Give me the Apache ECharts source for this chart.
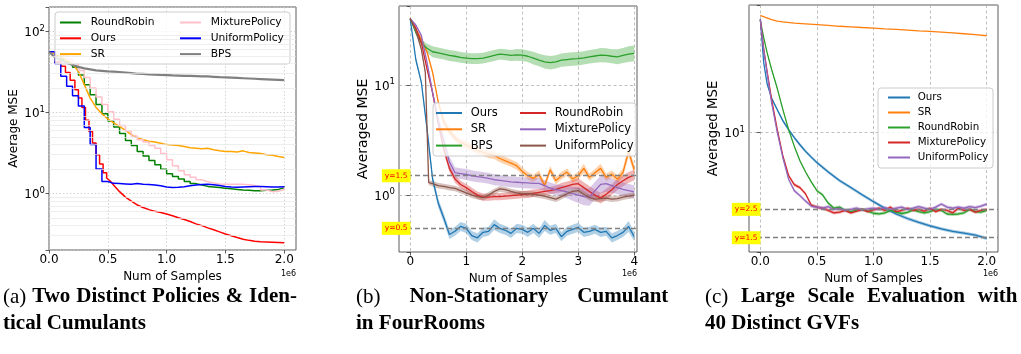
<!DOCTYPE html>
<html>
<head>
<meta charset="utf-8">
<script src="https://cdn.jsdelivr.net/npm/echarts@6/dist/echarts.min.js"></script>
<style>
  html, body { margin: 0; padding: 0; background: #fff; }
  #main { width: 1021px; height: 354px; }
</style>
</head>
<body>
<div id="main"></div>
<script>
// ---------- panel (a): two distinct policies, identical cumulants ----------
var xA = [0, 0.05, 0.1, 0.15, 0.2, 0.25, 0.3, 0.35, 0.4, 0.45, 0.5, 0.55, 0.6, 0.65, 0.7, 0.75, 0.8, 0.85, 0.9, 0.95,
          1.0, 1.05, 1.1, 1.15, 1.2, 1.25, 1.3, 1.35, 1.4, 1.45, 1.5, 1.55, 1.6, 1.65, 1.7, 1.75, 1.8, 1.85, 1.9, 1.95, 2.0];
var roundRobinA = [56, 50, 45, 41, 36, 29, 22, 16.5, 12.5, 9.6, 7.8, 6.6, 5.5, 4.5, 3.9, 3.3, 2.9, 2.55, 2.25, 1.98,
                   1.75, 1.62, 1.5, 1.4, 1.32, 1.27, 1.22, 1.2, 1.18, 1.16, 1.14, 1.12, 1.1, 1.09, 1.08, 1.08, 1.09, 1.1, 1.12, 1.17, 1.22];
var srA = [56, 53, 48, 44, 40, 32, 22, 15, 11.5, 9.6, 8.3, 7.4, 6.7, 6.0, 5.3, 4.9, 4.6, 4.4, 4.3, 4.15,
           4.0, 3.95, 3.9, 3.8, 3.65, 3.6, 3.55, 3.6, 3.45, 3.35, 3.3, 3.3, 3.25, 3.35, 3.2, 3.15, 3.1, 3.0, 2.95, 2.85, 2.78];
var mixtureA = [56, 54, 50, 45, 40, 33, 27, 20, 15.5, 12.5, 10.2, 8.2, 6.9, 5.9, 5.1, 4.6, 4.3, 3.9, 3.6, 3.1,
                2.6, 2.2, 1.9, 1.7, 1.58, 1.47, 1.39, 1.34, 1.31, 1.3, 1.3, 1.3, 1.3, 1.28, 1.25, 1.2, 1.1, 1.05, 1.06, 1.12, 1.2];
var uniformA = [56, 40, 28, 21, 16, 12, 6.5, 4, 2.0, 1.4, 1.33, 1.32, 1.31, 1.3, 1.32, 1.3, 1.29, 1.27, 1.24, 1.2,
                1.18, 1.19, 1.21, 1.24, 1.27, 1.29, 1.3, 1.28, 1.25, 1.22, 1.2, 1.19, 1.2, 1.21, 1.22, 1.22, 1.21, 1.2, 1.2, 1.21, 1.22];
var bpsA = [56, 48, 44, 41, 38.5, 36.5, 35, 34, 33, 32.5, 32, 31.8, 31.5, 31, 30.5, 30, 29.8, 29.5, 29.3, 29,
            28.8, 28.6, 28.5, 28.3, 28.2, 28, 27.8, 27.8, 27.5, 27.2, 27, 26.8, 26.6, 26.4, 26.2, 26, 25.8, 25.6, 25.4, 25.2, 25];
// "Ours" is stepped early and smooth later, so it keeps its own points
var oursA = [[0, 56], [0.05, 56], [0.05, 42], [0.1, 42], [0.1, 37], [0.14, 37], [0.14, 31], [0.18, 31], [0.18, 25],
             [0.22, 25], [0.22, 19], [0.25, 19], [0.25, 15], [0.28, 15], [0.28, 11.5], [0.31, 11.5], [0.31, 8], [0.34, 8],
             [0.34, 5.8], [0.37, 5.8], [0.37, 4.2], [0.4, 4.2], [0.4, 3.0], [0.43, 3.0], [0.43, 2.3], [0.46, 2.3],
             [0.46, 1.8], [0.49, 1.8], [0.49, 1.55], [0.52, 1.42], [0.56, 1.22], [0.6, 1.05], [0.65, 0.9], [0.7, 0.8],
             [0.75, 0.72], [0.8, 0.67], [0.85, 0.63], [0.9, 0.6], [0.95, 0.58], [1.0, 0.555], [1.05, 0.53], [1.1, 0.5],
             [1.15, 0.475], [1.2, 0.45], [1.25, 0.42], [1.3, 0.4], [1.35, 0.375], [1.4, 0.355], [1.45, 0.335], [1.5, 0.315],
             [1.55, 0.3], [1.6, 0.285], [1.65, 0.272], [1.7, 0.263], [1.75, 0.257], [1.8, 0.253], [1.85, 0.251],
             [1.9, 0.249], [1.95, 0.247], [2.0, 0.245]];
var minorGridA = [0.3, 0.4, 0.5, 0.6, 0.7, 0.8, 0.9, 2, 3, 4, 5, 6, 7, 8, 9, 20, 30, 40, 50, 60, 70, 80, 90];

// ---------- panel (b): non-stationary cumulant, [x, mean, band factor] ----------
var oursB = [[0, 40, 1], [0.1, 17, 1.05], [0.2, 10.5, 1.05], [0.3, 4.0, 1.08], [0.4, 1.4, 1.1], [0.5, 0.85, 1.1],
  [0.6, 0.62, 1.1], [0.7, 0.44, 1.1], [0.8, 0.47, 1.1], [0.9, 0.52, 1.1], [1.0, 0.5, 1.1], [1.1, 0.43, 1.1],
  [1.2, 0.41, 1.1], [1.3, 0.46, 1.1], [1.4, 0.47, 1.1], [1.5, 0.54, 1.12], [1.6, 0.5, 1.1], [1.7, 0.48, 1.1],
  [1.8, 0.45, 1.1], [1.9, 0.5, 1.1], [2.0, 0.49, 1.1], [2.1, 0.46, 1.1], [2.2, 0.5, 1.1], [2.3, 0.45, 1.1],
  [2.4, 0.53, 1.12], [2.5, 0.48, 1.1], [2.6, 0.5, 1.1], [2.7, 0.42, 1.1], [2.8, 0.47, 1.1], [2.9, 0.49, 1.1],
  [3.0, 0.51, 1.1], [3.1, 0.46, 1.1], [3.2, 0.47, 1.1], [3.3, 0.49, 1.1], [3.4, 0.46, 1.1], [3.5, 0.47, 1.1],
  [3.6, 0.41, 1.1], [3.7, 0.43, 1.1], [3.8, 0.46, 1.1], [3.9, 0.52, 1.12], [4.0, 0.42, 1.1]];
var srB = [[0, 40, 1], [0.1, 32, 1.02], [0.2, 26, 1.03], [0.3, 20, 1.04], [0.4, 13, 1.05], [0.5, 7, 1.06],
  [0.6, 4.6, 1.08], [0.7, 3.8, 1.08], [0.8, 3.3, 1.08], [0.9, 3.0, 1.08], [1.0, 2.85, 1.08], [1.1, 2.7, 1.08],
  [1.2, 2.55, 1.08], [1.3, 2.45, 1.08], [1.4, 2.35, 1.08], [1.5, 2.3, 1.08], [1.6, 2.15, 1.08], [1.7, 2.05, 1.08],
  [1.8, 1.95, 1.08], [1.9, 1.85, 1.08], [2.0, 1.65, 1.08], [2.1, 1.5, 1.08], [2.2, 1.42, 1.08], [2.3, 1.55, 1.08],
  [2.4, 1.22, 1.08], [2.5, 1.7, 1.08], [2.6, 1.35, 1.08], [2.7, 1.5, 1.08], [2.8, 1.62, 1.08], [2.9, 1.4, 1.08],
  [3.0, 1.5, 1.08], [3.1, 1.75, 1.1], [3.2, 1.45, 1.08], [3.3, 1.6, 1.08], [3.4, 1.75, 1.1], [3.5, 1.45, 1.08],
  [3.6, 1.55, 1.08], [3.7, 1.4, 1.08], [3.8, 1.6, 1.1], [3.9, 2.5, 1.12], [4.0, 1.7, 1.1]];
var bpsB = [[0, 40, 1], [0.1, 30, 1.05], [0.2, 24, 1.08], [0.3, 21.5, 1.1], [0.4, 20, 1.12], [0.5, 19.5, 1.12],
  [0.6, 19, 1.12], [0.7, 18.5, 1.12], [0.8, 18.2, 1.12], [0.9, 17.8, 1.12], [1.0, 17.5, 1.12], [1.1, 17.3, 1.12],
  [1.2, 17.3, 1.12], [1.3, 17.5, 1.12], [1.4, 18, 1.12], [1.5, 18.5, 1.12], [1.6, 19, 1.12], [1.7, 18.8, 1.12],
  [1.8, 18.5, 1.12], [1.9, 18.7, 1.13], [2.0, 18.6, 1.13], [2.1, 18.2, 1.13], [2.2, 17.5, 1.14], [2.3, 16.8, 1.14],
  [2.4, 16.2, 1.15], [2.5, 15.9, 1.15], [2.6, 16.2, 1.15], [2.7, 16.8, 1.15], [2.8, 17, 1.15], [2.9, 17.2, 1.15],
  [3.0, 17.3, 1.15], [3.1, 17.6, 1.15], [3.2, 18, 1.15], [3.3, 18.3, 1.15], [3.4, 18.6, 1.16], [3.5, 18.5, 1.16],
  [3.6, 18.2, 1.16], [3.7, 18, 1.17], [3.8, 18.5, 1.17], [3.9, 19, 1.18], [4.0, 19.3, 1.18]];
var roundRobinB = [[0, 40, 1], [0.1, 33, 1.02], [0.2, 24, 1.03], [0.3, 14, 1.04], [0.4, 8.5, 1.05], [0.5, 4.5, 1.06],
  [0.6, 2.6, 1.08], [0.7, 1.75, 1.08], [0.8, 1.4, 1.08], [0.9, 1.25, 1.08], [1.0, 1.17, 1.08], [1.1, 1.08, 1.08],
  [1.2, 1.0, 1.08], [1.3, 0.96, 1.08], [1.4, 0.96, 1.08], [1.5, 0.97, 1.08], [1.6, 0.97, 1.08], [1.7, 0.98, 1.08],
  [1.8, 0.99, 1.08], [1.9, 1.0, 1.08], [2.0, 1.01, 1.08], [2.1, 1.02, 1.08], [2.2, 1.04, 1.08], [2.3, 1.06, 1.08],
  [2.4, 1.08, 1.08], [2.5, 1.1, 1.08], [2.6, 1.13, 1.08], [2.7, 1.17, 1.1], [2.8, 1.21, 1.1], [2.9, 1.25, 1.1],
  [3.0, 1.27, 1.12], [3.1, 1.17, 1.12], [3.2, 1.08, 1.12], [3.3, 1.0, 1.12], [3.4, 0.94, 1.12], [3.5, 1.02, 1.12],
  [3.6, 1.12, 1.12], [3.7, 1.25, 1.12], [3.8, 1.35, 1.12], [3.9, 1.45, 1.12], [4.0, 1.52, 1.12]];
var mixtureB = [[0, 40, 1], [0.1, 35, 1.02], [0.2, 28, 1.03], [0.3, 16, 1.05], [0.4, 8.5, 1.08], [0.5, 4.8, 1.1],
  [0.6, 3.1, 1.12], [0.7, 2.0, 1.12], [0.8, 1.6, 1.12], [0.9, 1.57, 1.12], [1.0, 1.54, 1.12], [1.1, 1.5, 1.12],
  [1.2, 1.47, 1.12], [1.3, 1.45, 1.12], [1.4, 1.42, 1.12], [1.5, 1.38, 1.12], [1.6, 1.36, 1.12], [1.7, 1.34, 1.12],
  [1.8, 1.32, 1.12], [1.9, 1.31, 1.12], [2.0, 1.3, 1.12], [2.1, 1.29, 1.12], [2.2, 1.28, 1.12], [2.3, 1.28, 1.12],
  [2.4, 1.22, 1.12], [2.5, 1.16, 1.12], [2.6, 1.12, 1.12], [2.7, 1.1, 1.12], [2.8, 1.07, 1.14], [2.9, 1.03, 1.16],
  [3.0, 1.0, 1.18], [3.1, 0.97, 1.2], [3.2, 0.96, 1.2], [3.3, 1.1, 1.2], [3.4, 1.25, 1.2], [3.5, 1.27, 1.18],
  [3.6, 1.22, 1.16], [3.7, 1.17, 1.15], [3.8, 1.13, 1.15], [3.9, 1.1, 1.15], [4.0, 1.07, 1.15]];
var uniformB = [[0, 40, 1], [0.1, 31, 1.02], [0.2, 21, 1.03], [0.27, 13, 1.04], [0.33, 1.3, 1.05], [0.4, 1.27, 1.06],
  [0.5, 1.22, 1.06], [0.6, 1.2, 1.06], [0.7, 1.17, 1.06], [0.8, 1.15, 1.06], [0.9, 1.1, 1.06], [1.0, 1.05, 1.06],
  [1.1, 1.0, 1.06], [1.2, 0.97, 1.06], [1.3, 0.95, 1.06], [1.4, 1.0, 1.06], [1.5, 1.08, 1.06], [1.6, 1.14, 1.06],
  [1.7, 1.12, 1.06], [1.8, 1.08, 1.06], [1.9, 1.05, 1.06], [2.0, 1.03, 1.06], [2.1, 1.03, 1.06], [2.2, 1.02, 1.06],
  [2.3, 1.0, 1.06], [2.4, 0.98, 1.06], [2.5, 0.95, 1.06], [2.6, 0.92, 1.06], [2.7, 0.97, 1.06], [2.8, 1.03, 1.06],
  [2.9, 1.08, 1.06], [3.0, 1.1, 1.06], [3.1, 1.02, 1.06], [3.2, 0.95, 1.06], [3.3, 0.92, 1.06], [3.4, 0.93, 1.06],
  [3.5, 0.94, 1.06], [3.6, 0.92, 1.06], [3.7, 0.93, 1.06], [3.8, 0.96, 1.06], [3.9, 0.98, 1.06], [4.0, 1.0, 1.06]];
var refLinesB = [1.5, 0.5];

// ---------- panel (c): 40 distinct GVFs, [x, mean, band factor] ----------
var oursC = [[0, 77, 1], [0.03, 35, 1.03], [0.06, 24, 1.03], [0.1, 18.5, 1.03], [0.15, 15, 1.03], [0.2, 12.3, 1.03],
  [0.25, 10.5, 1.03], [0.3, 9.1, 1.03], [0.35, 8.0, 1.03], [0.4, 7.1, 1.03], [0.45, 6.4, 1.03], [0.5, 5.8, 1.03],
  [0.6, 4.9, 1.03], [0.7, 4.2, 1.03], [0.8, 3.7, 1.03], [0.9, 3.25, 1.03], [1.0, 2.87, 1.03], [1.1, 2.55, 1.03],
  [1.2, 2.3, 1.03], [1.3, 2.12, 1.03], [1.4, 1.98, 1.03], [1.5, 1.86, 1.03], [1.6, 1.76, 1.03], [1.7, 1.68, 1.03],
  [1.8, 1.63, 1.03], [1.9, 1.57, 1.03], [2.0, 1.48, 1.03]];
var srC = [[0, 82, 1], [0.05, 79, 1], [0.1, 76, 1], [0.15, 74, 1], [0.2, 73, 1], [0.3, 71.5, 1], [0.4, 70.5, 1],
  [0.5, 69.5, 1], [0.6, 68.5, 1], [0.7, 67.5, 1], [0.8, 66.8, 1], [0.9, 66, 1], [1.0, 65.3, 1], [1.1, 64.5, 1],
  [1.2, 63.8, 1], [1.3, 63, 1], [1.4, 62.2, 1], [1.5, 61.5, 1], [1.6, 60.8, 1], [1.7, 60, 1], [1.8, 59, 1],
  [1.9, 58, 1], [2.0, 56.9, 1]];
var roundRobinC = [[0, 75, 1], [0.03, 55, 1.02], [0.06, 42, 1.02], [0.1, 31, 1.02], [0.15, 22, 1.02], [0.2, 15, 1.02],
  [0.25, 10.5, 1.02], [0.3, 7.8, 1.02], [0.35, 6.0, 1.02], [0.4, 4.9, 1.02], [0.45, 4.1, 1.02], [0.5, 3.5, 1.02],
  [0.55, 3.25, 1.03], [0.6, 2.8, 1.03], [0.65, 2.55, 1.03], [0.7, 2.6, 1.03], [0.75, 2.45, 1.03], [0.8, 2.4, 1.03],
  [0.85, 2.45, 1.03], [0.9, 2.5, 1.03], [0.95, 2.42, 1.03], [1.0, 2.33, 1.03], [1.05, 2.3, 1.03], [1.1, 2.35, 1.03],
  [1.15, 2.45, 1.03], [1.2, 2.38, 1.03], [1.25, 2.32, 1.03], [1.3, 2.37, 1.03], [1.35, 2.48, 1.03], [1.4, 2.4, 1.03],
  [1.45, 2.35, 1.03], [1.5, 2.4, 1.03], [1.55, 2.5, 1.03], [1.6, 2.45, 1.03], [1.65, 2.3, 1.03], [1.7, 2.28, 1.03],
  [1.75, 2.3, 1.03], [1.8, 2.35, 1.03], [1.85, 2.5, 1.03], [1.9, 2.4, 1.03], [1.95, 2.38, 1.03], [2.0, 2.45, 1.03]];
var mixtureC = [[0, 76, 1], [0.03, 45, 1.02], [0.06, 30, 1.02], [0.1, 18, 1.02], [0.15, 10.5, 1.02], [0.2, 6.5, 1.03],
  [0.25, 4.6, 1.03], [0.3, 3.9, 1.03], [0.35, 3.7, 1.03], [0.4, 3.3, 1.03], [0.45, 2.7, 1.03], [0.5, 2.6, 1.03],
  [0.55, 2.55, 1.03], [0.6, 2.45, 1.03], [0.65, 2.35, 1.03], [0.7, 2.38, 1.03], [0.75, 2.45, 1.03], [0.8, 2.35, 1.03],
  [0.85, 2.42, 1.03], [0.9, 2.5, 1.03], [0.95, 2.4, 1.03], [1.0, 2.48, 1.03], [1.05, 2.55, 1.03], [1.1, 2.45, 1.03],
  [1.15, 2.6, 1.03], [1.2, 2.4, 1.03], [1.25, 2.45, 1.03], [1.3, 2.55, 1.03], [1.35, 2.45, 1.03], [1.4, 2.5, 1.03],
  [1.45, 2.42, 1.03], [1.5, 2.55, 1.03], [1.55, 2.4, 1.03], [1.6, 2.5, 1.03], [1.65, 2.45, 1.03], [1.7, 2.35, 1.03],
  [1.75, 2.55, 1.03], [1.8, 2.45, 1.03], [1.85, 2.5, 1.03], [1.9, 2.38, 1.03], [1.95, 2.45, 1.03], [2.0, 2.5, 1.03]];
var uniformC = [[0, 76, 1], [0.03, 44, 1.02], [0.06, 29, 1.02], [0.1, 17, 1.02], [0.15, 10, 1.02], [0.2, 6.3, 1.03],
  [0.25, 4.3, 1.03], [0.3, 3.5, 1.03], [0.35, 3.2, 1.03], [0.4, 2.9, 1.03], [0.45, 2.65, 1.03], [0.5, 2.6, 1.03],
  [0.55, 2.55, 1.03], [0.6, 2.62, 1.03], [0.65, 2.5, 1.03], [0.7, 2.55, 1.03], [0.75, 2.45, 1.03], [0.8, 2.5, 1.03],
  [0.85, 2.55, 1.03], [0.9, 2.48, 1.03], [0.95, 2.52, 1.03], [1.0, 2.55, 1.03], [1.05, 2.5, 1.03], [1.1, 2.58, 1.03],
  [1.15, 2.5, 1.03], [1.2, 2.55, 1.03], [1.25, 2.6, 1.03], [1.3, 2.5, 1.03], [1.35, 2.55, 1.03], [1.4, 2.62, 1.03],
  [1.45, 2.55, 1.03], [1.5, 2.5, 1.03], [1.55, 2.6, 1.03], [1.6, 2.75, 1.03], [1.65, 2.6, 1.03], [1.7, 2.55, 1.03],
  [1.75, 2.6, 1.03], [1.8, 2.55, 1.03], [1.85, 2.62, 1.03], [1.9, 2.58, 1.03], [1.95, 2.65, 1.03], [2.0, 2.75, 1.03]];
var refLinesC = [2.5, 1.5];

var FONT = 'DejaVu Sans';
var myChart = echarts.init(document.getElementById('main'), null, { renderer: 'canvas' });

function zip(xs, ys) {
    return xs.map(function (x, i) { return [x, ys[i]]; });
}

// 10^n labels only on whole decades
function powLabel(v) {
    var l = Math.log10(v), e = Math.round(l);
    if (Math.abs(l - e) > 1e-6) return '';
    return '{b|10}{s|' + e + '}';
}
var powRich = {
    b: { fontSize: 12, fontFamily: FONT, color: '#000', verticalAlign: 'bottom', lineHeight: 15 },
    s: { fontSize: 8.5, fontFamily: FONT, color: '#000', verticalAlign: 'top', lineHeight: 9 }
};

function lineSeries(name, data, color, idx, extra) {
    var s = {
        name: name, type: 'line', data: data, xAxisIndex: idx, yAxisIndex: idx,
        showSymbol: false, symbol: 'none', silent: true, z: 3,
        lineStyle: { color: color, width: 1.5 }, itemStyle: { color: color }
    };
    for (var k in extra) s[k] = extra[k];
    return s;
}

// shaded band between mean/f and mean*f
function bandSeries(data, color, idx, alpha) {
    return {
        type: 'custom', xAxisIndex: idx, yAxisIndex: idx, silent: true, z: 2,
        data: [[data[0][0], data[0][1]]],
        renderItem: function (params, api) {
            var up = data.map(function (p) { return api.coord([p[0], p[1] * p[2]]); });
            var lo = data.map(function (p) { return api.coord([p[0], p[1] / p[2]]); }).reverse();
            return { type: 'polygon', shape: { points: up.concat(lo) }, style: { fill: color, opacity: alpha } };
        }
    };
}

function refLines(values, idx) {
    return {
        type: 'line', data: [], xAxisIndex: idx, yAxisIndex: idx, z: 6, silent: true,
        markLine: {
            silent: true, symbol: ['none', 'none'], animation: false,
            lineStyle: { color: '#808080', type: [5, 3], width: 1.3 },
            label: {
                show: true, position: 'start', distance: -11.5,
                formatter: function (p) { return 'y=' + p.value; },
                color: '#ff0000', fontSize: 7.5, fontFamily: FONT,
                backgroundColor: '#ffff00', padding: [3, 3, 2, 3]
            },
            data: values.map(function (v) { return { yAxis: v }; })
        }
    };
}

function xAxisCfg(idx, min, max, ticks, fmt, gridStyle) {
    return {
        type: 'value', gridIndex: idx, min: min, max: max,
        axisLine: { show: false },
        axisTick: { show: true, length: 3.5, customValues: ticks, lineStyle: { color: '#333', width: 0.8 } },
        axisLabel: { customValues: ticks, fontSize: 12, fontFamily: FONT, color: '#000', margin: 4, formatter: fmt },
        splitLine: { show: true, lineStyle: gridStyle },
        name: 'Num of Samples', nameLocation: 'middle', nameGap: 19,
        nameTextStyle: { fontSize: 12, fontFamily: FONT, color: '#000' }
    };
}

function yAxisCfg(idx, min, max, name, gap, nameSize, gridStyle) {
    return {
        type: 'log', logBase: 10, gridIndex: idx, min: min, max: max,
        axisLine: { show: false },
        axisTick: { show: true, length: 3.5, lineStyle: { color: '#333', width: 0.8 } },
        axisLabel: { formatter: powLabel, rich: powRich, margin: 4 },
        splitLine: { show: true, lineStyle: gridStyle },
        name: name, nameLocation: 'middle', nameGap: gap, nameRotate: 90,
        nameTextStyle: { fontSize: nameSize, fontFamily: FONT, color: '#000' }
    };
}

function legendCol(names, left, top, size, iw, gap, pad) {
    return {
        orient: 'vertical', left: left, top: top, padding: 0, itemGap: gap,
        itemWidth: iw, itemHeight: 2, icon: 'rect', selectedMode: false, z: 6,
        data: names,
        formatter: function (n) { return n.split('|')[1]; },
        textStyle: { fontSize: size, fontFamily: FONT, color: '#000', padding: [0, 0, 0, pad] }
    };
}

function legendBox(x, y, w, h) {
    return {
        type: 'rect', z: 5, silent: true,
        shape: { x: x, y: y, width: w, height: h, r: 3 },
        style: { fill: 'rgba(255,255,255,0.8)', stroke: '#cccccc', lineWidth: 1 }
    };
}

function plainText(str, x, y, font, align) {
    return {
        type: 'text', z: 6, silent: true,
        style: { text: str, x: x, y: y, font: font, fill: '#000', textAlign: align || 'left', textVerticalAlign: 'middle' }
    };
}

// caption line; words are separated by gaps of a given width (LaTeX justified text)
function caption(words, tagged, gap, x, y) {
    var parts = words.map(function (w, i) {
        return (i === 0 && tagged ? '{r|' : '{b|') + w + '}';
    });
    return {
        type: 'text', z: 6, silent: true,
        style: {
            text: parts.join('{g| }'), x: x, y: y,
            textVerticalAlign: 'middle', fill: '#000',
            rich: {
                r: { fontFamily: 'Liberation Serif', fontSize: 21, fontWeight: 'normal', fill: '#000' },
                b: { fontFamily: 'Liberation Serif', fontSize: 21, fontWeight: 'bold', fill: '#000' },
                g: { fontFamily: 'Liberation Serif', fontSize: 21, width: gap }
            }
        }
    };
}

var dotted = { color: '#c8c8c8', type: [1.5, 2], width: 0.8 };
var dashed = { color: '#b0b0b0', type: [3, 2.5], width: 0.8 };

var tab = { blue: '#1f77b4', orange: '#ff7f0e', green: '#2ca02c', red: '#d62728', purple: '#9467bd', brown: '#8c564b' };

var option = {
    animation: false,
    textStyle: { fontFamily: FONT },
    grid: [
        { left: 49, top: 7, width: 247, height: 243, show: true, borderColor: '#333', borderWidth: 0.8, backgroundColor: 'transparent' },
        { left: 399, top: 6, width: 238, height: 246, show: true, borderColor: '#333', borderWidth: 0.8, backgroundColor: 'transparent' },
        { left: 749, top: 5, width: 249, height: 247, show: true, borderColor: '#333', borderWidth: 0.8, backgroundColor: 'transparent' }
    ],
    xAxis: [
        xAxisCfg(0, 0, 2.1, [0, 0.5, 1, 1.5, 2], function (v) { return v.toFixed(1); }, dotted),
        xAxisCfg(1, -0.2, 4.05, [0, 1, 2, 3, 4], function (v) { return String(Math.round(v)); }, dashed),
        xAxisCfg(2, -0.1, 2.1, [0, 0.5, 1, 1.5, 2], function (v) { return v.toFixed(1); }, dashed)
    ],
    yAxis: [
        yAxisCfg(0, 0.2, 200, 'Average MSE', 29, 12, dotted),
        yAxisCfg(1, 0.305, 52, 'Averaged MSE', 26, 14, dashed),
        yAxisCfg(2, 1.16, 99, 'Averaged MSE', 24, 13.3, dashed)
    ],
    legend: [
        legendCol(['a|RoundRobin', 'a|Ours', 'a|SR'], 60, 17, 10.7, 21, 4.8, 4.7),
        legendCol(['a|MixturePolicy', 'a|UniformPolicy', 'a|BPS'], 180, 17, 10.7, 21, 4.8, 4.7),
        legendCol(['b|Ours', 'b|SR', 'b|BPS'], 436, 107, 11.5, 26, 4.3, 3.7),
        legendCol(['b|RoundRobin', 'b|MixturePolicy', 'b|UniformPolicy'], 520, 107, 11.5, 26, 4.3, 3.7),
        legendCol(['c|Ours', 'c|SR', 'c|RoundRobin', 'c|MixturePolicy', 'c|UniformPolicy'], 888, 92.5, 10.3, 22, 5, 2.7)
    ],
    graphic: [
        legendBox(55, 12, 235, 52),
        legendBox(433, 103, 203, 53),
        legendBox(878, 88, 115, 80),
        plainText('1e6', 296, 274, '8px "DejaVu Sans"', 'right'),
        plainText('1e6', 637, 274, '8px "DejaVu Sans"', 'right'),
        plainText('1e6', 998, 274, '8px "DejaVu Sans"', 'right'),
        caption(['(a)', 'Two', 'Distinct', 'Policies', '&', 'Iden-'], true, 5.9, 3, 297),
        caption(['tical', 'Cumulants'], false, 5.3, 3, 324),
        caption(['(b)', 'Non-Stationary', 'Cumulant'], true, 29, 356, 297),
        caption(['in', 'FourRooms'], false, 5.3, 356, 324),
        caption(['(c)', 'Large', 'Scale', 'Evaluation', 'with'], true, 12.8, 705, 297),
        caption(['40', 'Distinct', 'GVFs'], false, 5.3, 705, 324)
    ],
    series: [
        // panel (a)
        {
            type: 'line', data: [], xAxisIndex: 0, yAxisIndex: 0, z: 1, silent: true,
            markLine: {
                silent: true, symbol: ['none', 'none'], animation: false, label: { show: false },
                lineStyle: { color: '#e6e6e6', type: 'solid', width: 0.7 },
                data: minorGridA.map(function (v) { return { yAxis: v }; })
            }
        },
        lineSeries('a|RoundRobin', zip(xA, roundRobinA), '#008000', 0, { step: 'end' }),
        lineSeries('a|Ours', oursA, '#ff0000', 0, {}),
        lineSeries('a|SR', zip(xA, srA), '#ffa500', 0, {}),
        lineSeries('a|MixturePolicy', zip(xA, mixtureA), '#ffc0cb', 0, { step: 'end' }),
        lineSeries('a|UniformPolicy', zip(xA, uniformA), '#0000ff', 0, { step: 'end' }),
        lineSeries('a|BPS', zip(xA, bpsA), '#808080', 0, { lineStyle: { color: '#808080', width: 2.2 } }),

        // panel (b)
        bandSeries(oursB, tab.blue, 1, 0.35),
        lineSeries('b|Ours', oursB, tab.blue, 1, { lineStyle: { color: tab.blue, width: 1.3 } }),
        bandSeries(srB, tab.orange, 1, 0.35),
        lineSeries('b|SR', srB, tab.orange, 1, { lineStyle: { color: tab.orange, width: 1.3 } }),
        bandSeries(bpsB, tab.green, 1, 0.35),
        lineSeries('b|BPS', bpsB, tab.green, 1, { lineStyle: { color: tab.green, width: 1.3 } }),
        bandSeries(roundRobinB, tab.red, 1, 0.35),
        lineSeries('b|RoundRobin', roundRobinB, tab.red, 1, { lineStyle: { color: tab.red, width: 1.3 } }),
        bandSeries(mixtureB, tab.purple, 1, 0.35),
        lineSeries('b|MixturePolicy', mixtureB, tab.purple, 1, { lineStyle: { color: tab.purple, width: 1.3 } }),
        bandSeries(uniformB, tab.brown, 1, 0.35),
        lineSeries('b|UniformPolicy', uniformB, tab.brown, 1, { lineStyle: { color: tab.brown, width: 1.3 } }),
        refLines(refLinesB, 1),

        // panel (c)
        bandSeries(oursC, tab.blue, 2, 0.4),
        lineSeries('c|Ours', oursC, tab.blue, 2, { lineStyle: { color: tab.blue, width: 1.3 } }),
        lineSeries('c|SR', srC, tab.orange, 2, { lineStyle: { color: tab.orange, width: 1.3 } }),
        bandSeries(roundRobinC, tab.green, 2, 0.4),
        lineSeries('c|RoundRobin', roundRobinC, tab.green, 2, { lineStyle: { color: tab.green, width: 1.3 } }),
        bandSeries(mixtureC, tab.red, 2, 0.4),
        lineSeries('c|MixturePolicy', mixtureC, tab.red, 2, { lineStyle: { color: tab.red, width: 1.3 } }),
        bandSeries(uniformC, tab.purple, 2, 0.4),
        lineSeries('c|UniformPolicy', uniformC, tab.purple, 2, { lineStyle: { color: tab.purple, width: 1.3 } }),
        refLines(refLinesC, 2)
    ]
};

myChart.setOption(option);
</script>
</body>
</html>
